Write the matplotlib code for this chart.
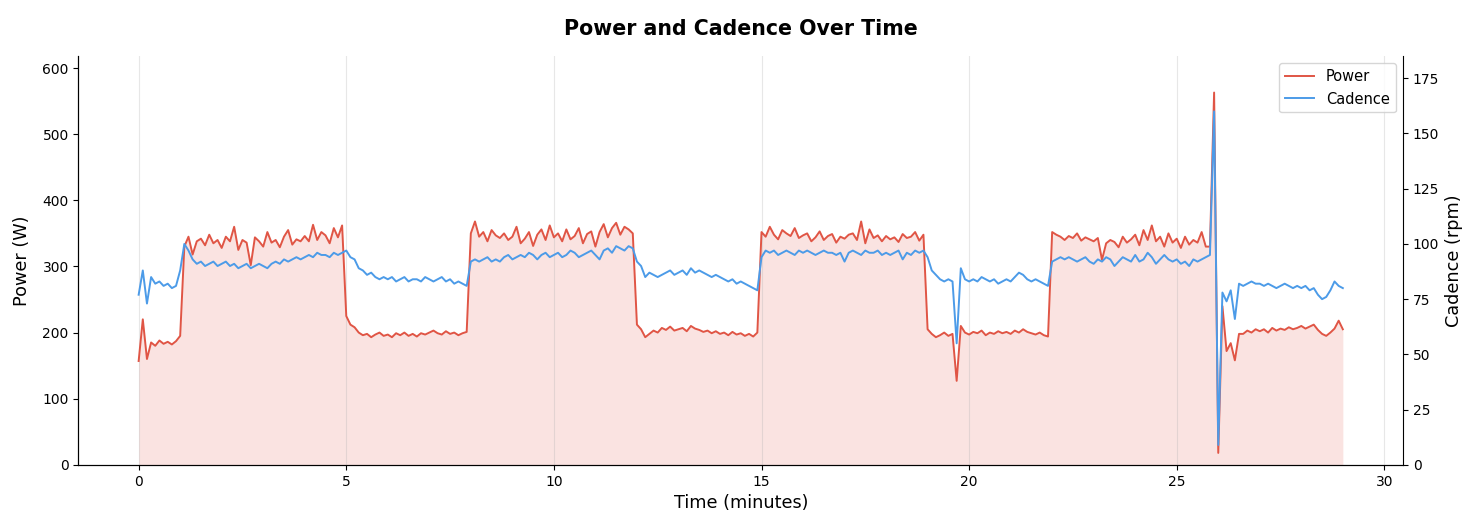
import numpy as np
import matplotlib.pyplot as plt

# time axis: one sample every 0.1 min, 0 .. 29 min
minutes = np.round(np.arange(0, 291) * 0.1, 1)

# power (W), one row per minute
power = [
    157, 220, 160, 185, 180, 188, 183, 186, 182, 187,
    195, 330, 345, 318, 338, 342, 332, 348, 335, 340,
    328, 345, 338, 360, 325, 340, 336, 302, 344, 338,
    330, 352, 336, 340, 329, 345, 355, 333, 341, 338,
    346, 338, 363, 340, 352, 347, 335, 358, 344, 362,
    225, 212, 208, 200, 196, 198, 193, 197, 200, 195,
    197, 193, 199, 196, 200, 195, 198, 194, 199, 197,
    200, 203, 199, 197, 202, 198, 200, 196, 199, 201,
    350, 368, 345, 352, 338, 355, 347, 343, 350, 340,
    345, 360, 335, 342, 352, 331, 348, 356, 340, 362,
    344, 350, 338, 356, 341, 346, 358, 335, 349, 353,
    330, 352, 364, 344, 358, 366, 348, 360, 356, 350,
    212, 205, 193, 198, 203, 200, 207, 204, 209, 203,
    205, 207, 202, 210, 206, 204, 201, 203, 199, 202,
    198, 200, 196, 201, 197, 199, 195, 198, 194, 200,
    352, 345, 360, 348, 341, 355, 350, 346, 358, 343,
    347, 350, 338, 344, 353, 340, 346, 349, 336, 345,
    342, 348, 350, 340, 368, 335, 356, 343, 347, 338,
    346, 341, 344, 337, 349, 343, 345, 352, 339, 348,
    205, 198, 193, 196, 200, 195, 198, 127, 210, 200,
    197, 201, 199, 203, 196, 200, 198, 202, 199, 201,
    198, 203, 200, 205, 201, 199, 197, 200, 196, 194,
    352, 348, 345, 340, 346, 343, 350, 339, 344, 341,
    338, 343, 310, 335, 340, 337, 329, 345, 336, 341,
    348, 332, 355, 340, 362, 338, 345, 330, 350, 336,
    342, 328, 345, 333, 340, 336, 352, 330, 330, 563,
    18, 240, 172, 184, 158, 198, 198, 203, 200, 205,
    202, 205, 200, 207, 203, 206, 204, 208, 205, 207,
    210, 206, 209, 212, 204, 198, 195, 200, 206, 218,
    205,
]

# cadence (rpm), one row per minute
cadence = [
    77, 88, 73, 85, 82, 83, 81, 82, 80, 81,
    88, 100, 97, 93, 91, 92, 90, 91, 92, 90,
    91, 92, 90, 91, 89, 90, 91, 89, 90, 91,
    90, 89, 91, 92, 91, 93, 92, 93, 94, 93,
    94, 95, 94, 96, 95, 95, 94, 96, 95, 96,
    97, 94, 93, 89, 88, 86, 87, 85, 84, 85,
    84, 85, 83, 84, 85, 83, 84, 84, 83, 85,
    84, 83, 84, 85, 83, 84, 82, 83, 82, 81,
    92, 93, 92, 93, 94, 92, 93, 92, 94, 95,
    93, 94, 95, 94, 96, 95, 93, 95, 96, 94,
    95, 96, 94, 95, 97, 96, 94, 95, 96, 97,
    95, 93, 97, 98, 96, 99, 98, 97, 99, 98,
    92, 90, 85, 87, 86, 85, 86, 87, 88, 86,
    87, 88, 86, 89, 87, 88, 87, 86, 85, 86,
    85, 84, 83, 84, 82, 83, 82, 81, 80, 79,
    94, 97, 96, 97, 95, 96, 97, 96, 95, 97,
    96, 97, 96, 95, 96, 97, 96, 96, 95, 96,
    92, 96, 97, 96, 95, 97, 96, 96, 97, 95,
    96, 95, 96, 97, 93, 96, 95, 97, 96, 97,
    94, 88, 86, 84, 83, 84, 83, 55, 89, 84,
    83, 84, 83, 85, 84, 83, 84, 82, 83, 84,
    83, 85, 87, 86, 84, 83, 84, 83, 82, 81,
    92, 93, 94, 93, 94, 93, 92, 93, 94, 92,
    91, 93, 92, 94, 93, 90, 92, 94, 93, 92,
    95, 92, 93, 96, 94, 91, 93, 95, 93, 92,
    93, 91, 92, 90, 93, 92, 93, 94, 95, 160,
    9, 78, 74, 79, 66, 82, 81, 82, 83, 82,
    82, 81, 82, 81, 80, 81, 82, 81, 80, 81,
    80, 81, 79, 80, 77, 75, 76, 79, 83, 81,
    80,
]

power_color = '#e05545'
cadence_color = '#4c9be8'

fig, ax = plt.subplots(figsize=(14.8, 5.3), dpi=100)
fig.subplots_adjust(left=0.053, right=0.948, top=0.894, bottom=0.123)

l1, = ax.plot(minutes, power, color=power_color, lw=1.4, label='Power')
ax.fill_between(minutes, power, 0, color=power_color, alpha=0.16, lw=0)
ax.set_ylim(0, 618)
ax.set_xlabel('Time (minutes)', fontsize=12.7)
ax.set_ylabel('Power (W)', fontsize=12.7, labelpad=8)
ax.grid(axis='x', alpha=0.3)
ax.spines['top'].set_visible(False)
ax.spines['right'].set_visible(False)

ax2 = ax.twinx()
l2, = ax2.plot(minutes, cadence, color=cadence_color, lw=1.4, label='Cadence')
ax2.set_ylim(0, 185)
ax2.set_ylabel('Cadence (rpm)', fontsize=12.7)
ax2.spines['top'].set_visible(False)

ax.legend(handles=[l1, l2], loc='upper right', fontsize=10.5)
ax.set_title('Power and Cadence Over Time', fontsize=14.8, fontweight='bold', pad=15)

fig.savefig('out.png')
